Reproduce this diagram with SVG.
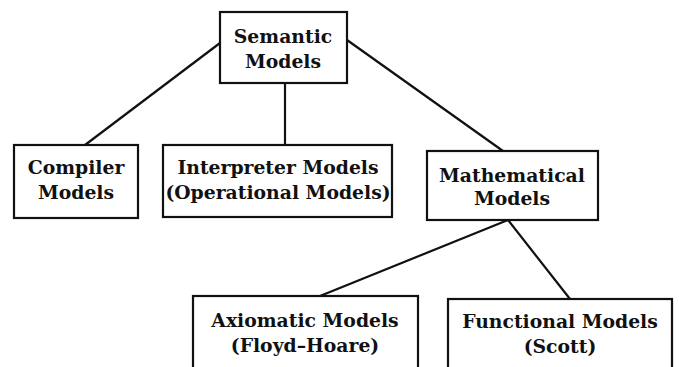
<svg xmlns="http://www.w3.org/2000/svg" width="679" height="367" viewBox="0 0 679 367">
<style>
.box{fill:#fff;stroke:#111;stroke-width:2.2}
.lbl{font-family:"DejaVu Serif","Liberation Serif",serif;font-weight:bold;font-size:18.8px;fill:#111;text-anchor:middle}
.edge{stroke:#111;stroke-width:2.2;fill:none}
</style>
<rect width="679" height="367" fill="#fff"/>
<g id="connectors">
<line class="edge" x1="220" y1="43" x2="85" y2="145"/>
<line class="edge" x1="285" y1="83" x2="285" y2="145"/>
<line class="edge" x1="347" y1="40" x2="503" y2="151"/>
<line class="edge" x1="508" y1="220" x2="320" y2="296"/>
<line class="edge" x1="508" y1="220" x2="570" y2="299"/>
</g>
<g id="semantic">
<rect class="box" x="220" y="12" width="127" height="71"/>
<text class="lbl" x="283" y="43">Semantic</text>
<text class="lbl" x="283" y="68">Models</text>
</g>
<g id="compiler">
<rect class="box" x="14" y="145" width="124" height="73"/>
<text class="lbl" x="76" y="174">Compiler</text>
<text class="lbl" x="76" y="199">Models</text>
</g>
<g id="interpreter">
<rect class="box" x="163" y="145" width="229" height="72"/>
<text class="lbl" x="278" y="174">Interpreter Models</text>
<text class="lbl" x="278" y="199">(Operational Models)</text>
</g>
<g id="mathematical">
<rect class="box" x="427" y="151" width="171" height="69"/>
<text class="lbl" x="512" y="182">Mathematical</text>
<text class="lbl" x="512" y="205">Models</text>
</g>
<g id="axiomatic">
<rect class="box" x="193" y="296" width="225" height="80"/>
<text class="lbl" x="305" y="327">Axiomatic Models</text>
<text class="lbl" x="305" y="352">(Floyd–Hoare)</text>
</g>
<g id="functional">
<rect class="box" x="448" y="299" width="224" height="80"/>
<text class="lbl" x="560" y="328">Functional Models</text>
<text class="lbl" x="560" y="353">(Scott)</text>
</g>
</svg>
